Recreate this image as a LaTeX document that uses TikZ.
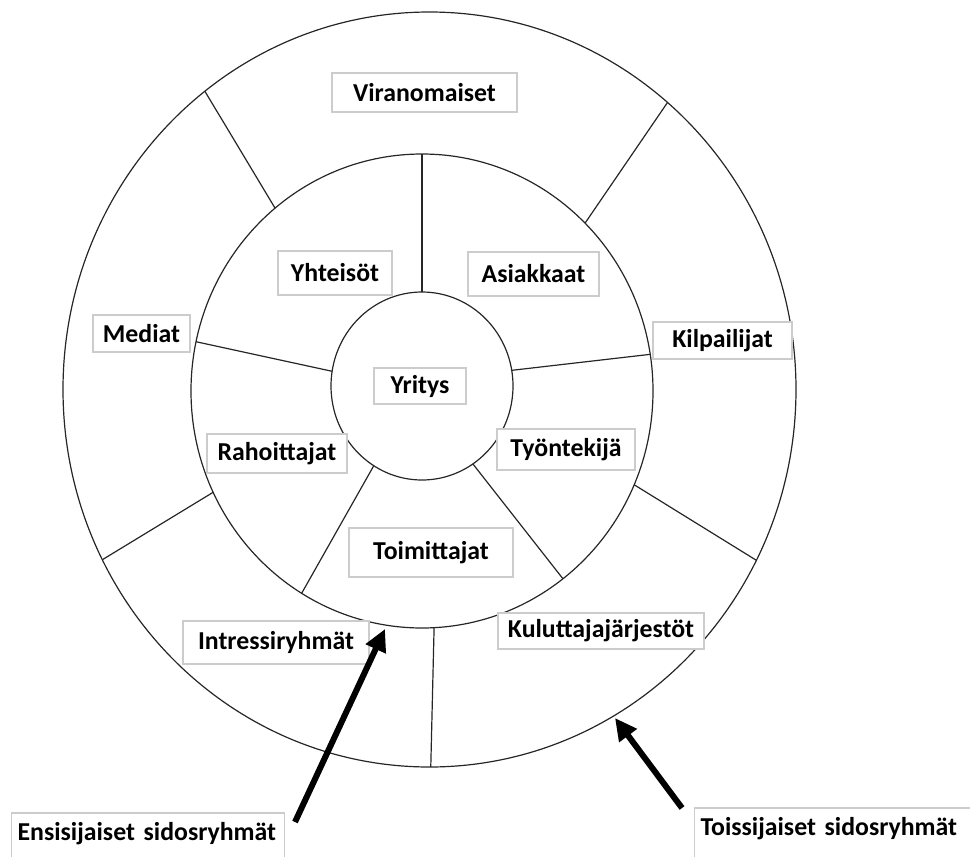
\documentclass[tikz,border=0pt]{standalone}
\usepackage{fontspec}
\setmainfont{Carlito}
\usetikzlibrary{arrows.meta,calc}

\begin{document}
\begin{tikzpicture}[x=0.5pt,y=0.5pt]
    \tikzstyle{box}=[rectangle,draw=gray!40,line width=0.6pt,fill=white,inner sep=0pt,font=\fontsize{12.9}{15}\selectfont\bfseries]
    \tikzstyle{label}=[box,anchor=base west,inner xsep=3pt,text height=13.5pt,text depth=20pt]
    \tikzstyle{ring}=[line width=0.6pt,black!85]
    \tikzstyle{pointer}=[line width=3pt,-{Triangle[length=11pt,width=10.5pt]}]
    \useasboundingbox (0,0) rectangle (970,-857);
    \clip (0,0) rectangle (970,-857);
    % the three rings
    \coordinate (outerc) at (429.5,-389.5);
    \coordinate (midc)   at (422,-391);
    \coordinate (innerc) at (422,-386);
    \draw [ring] (outerc) ellipse [x radius=183.25pt,y radius=188.75pt];
    \draw [ring] (midc)   ellipse [x radius=115.5pt,y radius=118.5pt];
    \draw [ring] (innerc) ellipse [x radius=45.5pt,y radius=47pt];
    % spokes between inner and middle ring
    \draw [ring] ($(innerc)+(90:91 and 94)$)    -- ($(midc)+(90:231 and 237)$);
    \draw [ring] ($(innerc)+(171:91 and 94)$)   -- ($(midc)+(168:231 and 237)$);
    \draw [ring] ($(innerc)+(9.6:91 and 94)$)   -- ($(midc)+(8.9:231 and 237)$);
    \draw [ring] ($(innerc)+(238:91 and 94)$)   -- ($(midc)+(238.6:231 and 237)$);
    \draw [ring] ($(innerc)+(304:91 and 94)$)   -- ($(midc)+(307.6:231 and 237)$);
    % spokes between middle and outer ring
    \draw [ring] ($(midc)+(129.5:231 and 237)$) -- ($(outerc)+(127.8:366.5 and 377.5)$);
    \draw [ring] ($(midc)+(45.1:231 and 237)$)  -- ($(outerc)+(49.5:366.5 and 377.5)$);
    \draw [ring] ($(midc)+(205.3:231 and 237)$) -- ($(outerc)+(206.8:366.5 and 377.5)$);
    \draw [ring] ($(midc)+(273:231 and 237)$)   -- ($(outerc)+(270.2:366.5 and 377.5)$);
    \draw [ring] ($(midc)+(336.7:231 and 237)$) -- ($(outerc)+(333.1:366.5 and 377.5)$);
    % labels
    \node (viran)  at (424.5,-92.5) [box,minimum width=92.5pt,minimum height=19.5pt] {Viranomaiset};
    \node (yhteis) at (335,-273)    [box,minimum width=57pt,minimum height=22pt] {Yhteisöt};
    \node (asiak)  at (533.5,-274)  [box,minimum width=65.5pt,minimum height=22pt] {Asiakkaat};
    \node (mediat) at (141.5,-333.5) [box,minimum width=48.5pt,minimum height=18.5pt] {Mediat};
    \node (yritys) at (420,-386)    [box,minimum width=46pt,minimum height=18pt] {Yritys};
    \node (kilpa)  at (722.5,-340.5) [box,minimum width=69.5pt,minimum height=18.5pt] {Kilpailijat};
    \node (rahoit) at (277,-453.5)  [box,minimum width=70pt,minimum height=19.5pt] {Rahoittajat};
    \node (tyont)  at (566,-449.5)  [box,minimum width=69pt,minimum height=20.5pt] {Työntekijä};
    \node (toimit) at (431,-552.5)  [box,minimum width=82pt,minimum height=24.5pt] {Toimittajat};
    \node (intres) at (276,-642.5)  [box,minimum width=93pt,minimum height=21.5pt] {Intressiryhmät};
    \node (kulutt) at (601,-631)    [box,minimum width=103pt,minimum height=18pt] {Kuluttajajärjestöt};
    \node (ensi)   at (11,-840)     [label,text width=130.5pt] {Ensisijaiset sidosryhmät};
    \node (toiss)  at (694,-835)    [label,text width=150pt] {Toissijaiset sidosryhmät};
    % arrows to the rings
    \coordinate (ensitail)  at (295,-822);
    \coordinate (ensitip)   at (385,-629);
    \coordinate (toisstail) at (682,-808);
    \coordinate (toisstip)  at (615,-718);
    \draw [pointer] (ensitail) -- (ensitip);
    \draw [pointer] (toisstail) -- (toisstip);
\end{tikzpicture}
\end{document}
